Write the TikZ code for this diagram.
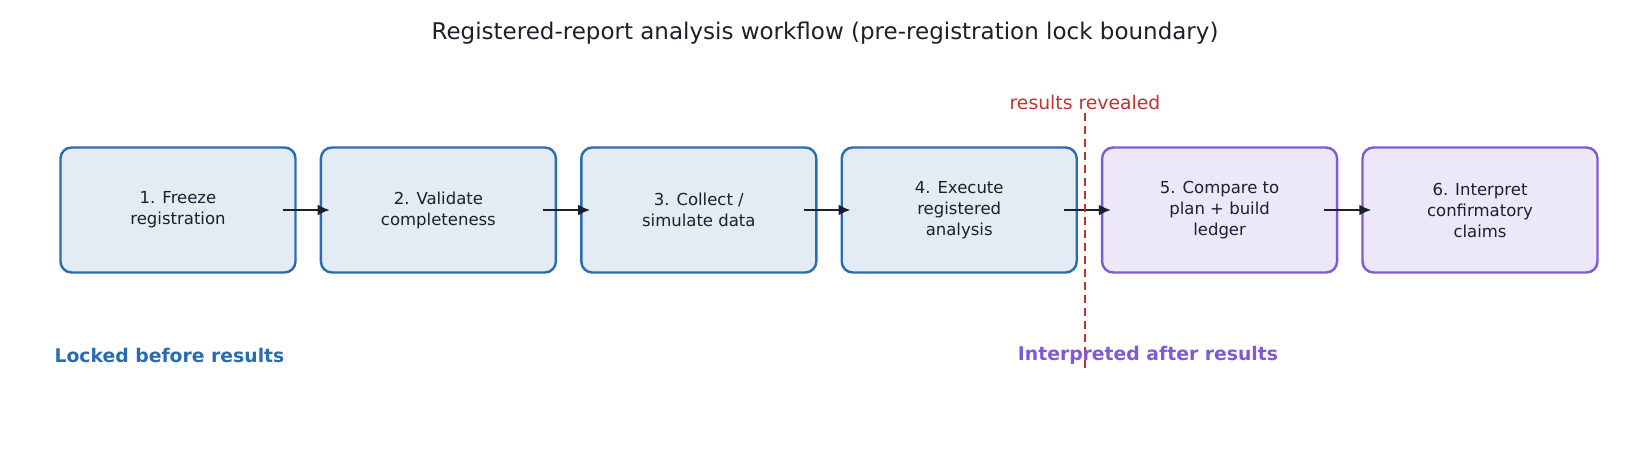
\documentclass[tikz,border=0pt]{standalone}
\usepackage{fontspec}
\setmainfont{DejaVu Sans}
\usetikzlibrary{positioning,arrows.meta}
\definecolor{lockblue}{HTML}{2B6CB0}
\definecolor{lockfill}{HTML}{E3EBF5}
\definecolor{interp}{HTML}{805AD5}
\definecolor{interpfill}{HTML}{EDE8F8}
\definecolor{reveal}{HTML}{C53030}
\definecolor{ink}{HTML}{1A202C}

\begin{document}
\begin{tikzpicture}[
            x=1pt,y=-1pt,
            stage/.style ={
                rectangle,
                rounded corners=11pt,
                line width=2.4pt,
                minimum width=235pt,
                minimum height=125pt,
                align=center,
                text=ink,
                font=\fontsize{16.5}{21}\selectfont
            },
            lck/.style ={stage, draw=lockblue, fill=lockfill},
            itp/.style ={stage, draw=interp, fill=interpfill},
            flow/.style ={-{Latex[length=12pt,width=11pt]}, line width=2.2pt, ink}
            ]
            \useasboundingbox (0,0) rectangle (1650,450);

            \node[ink,font=\fontsize{23}{27}\selectfont] (title) at (825,33) {Registered-report analysis workflow (pre-registration lock boundary)};

            \node[lck] (freeze) at (178,210) {1. Freeze\\registration};
            \node[lck] (validate) [right=23pt of freeze] {2. Validate\\completeness};
            \node[lck] (collect) [right=23pt of validate] {3. Collect /\\simulate data};
            \node[lck] (execute) [right=23pt of collect] {4. Execute\\registered\\analysis};
            \node[itp] (compare) [right=23pt of execute] {5. Compare to\\plan + build\\ledger};
            \node[itp] (interpret) [right=23pt of compare] {6. Interpret\\confirmatory\\claims};

            \foreach \a/\b in {freeze/validate,validate/collect,collect/execute,execute/compare,compare/interpret}
                \draw[flow] ([xshift=-14pt]\a.east) -- ([xshift=10pt]\b.west);

            %% lock boundary
            \coordinate (cuttop) at (1085,113);
            \coordinate (cutbot) at (1085,372);
            \draw[reveal, line width=2.6pt, dash pattern=on 8pt off 5pt] (cuttop) -- (cutbot);
            \node[reveal,font=\fontsize{18.8}{23}\selectfont,above=0pt of cuttop] (revealed) {results revealed};

            \node[lockblue,font=\bfseries\fontsize{18.8}{23}\selectfont,anchor=west] (locked) at (51,355) {Locked before results};
            \node[interp,font=\bfseries\fontsize{18.8}{23}\selectfont] (after) at (1148,355) {Interpreted after results};
        \end{tikzpicture}
\end{document}
